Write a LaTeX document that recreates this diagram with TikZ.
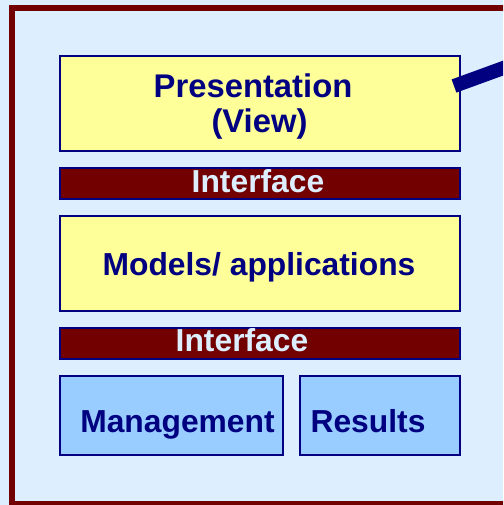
\documentclass[tikz,border=0pt]{standalone}
\usepackage{fontspec}
\setmainfont{Liberation Sans}
\definecolor{bgblue}{RGB}{221,238,255}
\definecolor{darkred}{RGB}{114,0,0}
\definecolor{navy}{RGB}{0,0,128}
\definecolor{paleyellow}{RGB}{255,255,153}
\definecolor{lightblue}{RGB}{153,204,255}
\begin{document}
\begin{tikzpicture}[x=1pt,y=-1pt,
  box/.style={draw=navy,line width=2pt,inner sep=0pt,outer sep=0pt,rectangle},
  yellowbox/.style={box,fill=paleyellow,minimum width=400pt,minimum height=95pt},
  ifbox/.style={box,fill=darkred,minimum width=400pt,minimum height=31pt},
  bluebox/.style={box,fill=lightblue,minimum height=79pt},
  lbl/.style={anchor=base,inner sep=0pt,text=navy,font=\fontsize{31.8}{36}\selectfont\bfseries},
  biglbl/.style={lbl,font=\fontsize{32.8}{36}\selectfont\bfseries},
  iflbl/.style={lbl,text=bgblue}]
\useasboundingbox (0,0) rectangle (503,505);
\fill[bgblue] (0,0) rectangle (503,505);
\begin{scope}
\clip (0,0) rectangle (503,505);
\draw[darkred,line width=6pt] (12,8) rectangle (530,504);
\node[yellowbox] (pres) at (260,103.5) {};
\node[ifbox] (if1) at (260,183.5) {};
\node[yellowbox] (models) at (260,263.5) {};
\node[ifbox] (if2) at (260,343.5) {};
\node[bluebox,minimum width=223pt] (mgmt) at (171.5,415.5) {};
\node[bluebox,minimum width=160pt] (res) at (380,415.5) {};
\node[biglbl] (t1) at (253,97.5) {Presentation};
\node[biglbl] (t2) at (259.5,132.5) {(View)};
\node[iflbl] (t3) at (258,192.5) {Interface};
\node[lbl] (t4) at (259,275.5) {Models/ applications};
\node[iflbl] (t5) at (242,351.5) {Interface};
\node[lbl] (t6) at (177.5,432.5) {Management};
\node[lbl] (t7) at (368,432.5) {Results};
\coordinate (pin) at (454,86);
\coordinate (pout) at (530,58.3);
\draw[navy,line width=14pt] (pin) -- (pout);
\end{scope}
\end{tikzpicture}
\end{document}
